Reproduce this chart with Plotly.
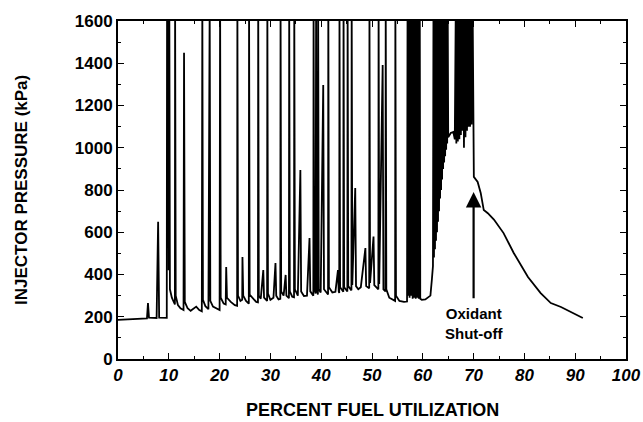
import plotly.graph_objects as go

# Percent fuel utilization (x) and injector pressure in kPa (y).
# Values of 1700 mark spikes that run off the top of the 0-1600 axis.
fuel_util = [
    0, 2, 4, 5.7, 5.9, 6.1, 7.6, 7.9, 8.1, 9.5,
    9.6, 9.66, 9.78, 9.86, 9.98, 10.1, 10.22, 10.6, 11.0, 11.2, 11.24, 11.36, 11.8, 12.3, 12.9,
    13.0, 13.15, 13.7, 14.3, 14.9, 15.4, 16.0, 16.5, 16.6, 16.72, 17.2, 17.8, 18.05, 18.17,
    18.7, 19.4, 20.0, 20.1, 20.22, 20.8, 21.2, 21.3, 21.45, 22.2, 23.0, 23.45, 23.5, 23.62,
    24.1, 24.45, 24.5, 24.65, 25.2, 25.75, 25.8, 25.92, 26.6, 27.2, 27.55, 27.6, 27.72, 28.1,
    28.6, 28.75, 29.35, 29.4, 29.52, 30.0, 30.6, 31.0, 31.15, 31.6, 31.95, 32.0, 32.12, 32.6,
    33.0, 33.15, 33.65, 33.7, 33.82, 34.3, 34.65, 34.7, 34.82, 35.4, 35.9, 36.05, 36.6, 37.2,
    37.7, 37.85, 38.45, 38.5, 38.62, 38.9, 39.0, 39.12, 39.35, 39.4, 39.52, 39.9, 40.4, 40.55,
    41.35, 41.4, 41.52, 42.2, 42.8, 43.3, 43.45, 43.55, 43.6, 43.72, 44.35, 44.4, 44.52, 45.15,
    45.2, 45.32, 45.95, 46.0, 46.12, 46.7, 46.85, 47.3, 47.8, 48.7, 48.85, 49.45, 49.5, 49.62,
    50.3, 50.45, 51.25, 51.3, 51.42, 52.1, 52.25, 52.65, 52.7, 52.82, 53.4, 54.0, 54.55, 54.6,
    54.72, 55.4, 56.3, 56.9, 57.0, 57.1, 57.3, 57.4, 57.6, 57.7, 57.9, 58.0, 58.2, 58.3, 58.5,
    58.6, 58.8, 58.9, 59.1, 59.2, 59.4, 59.5, 59.8, 60.5, 61.0, 61.5, 61.8,
    62.0, 62.1, 62.2, 62.3, 62.4, 62.5, 62.6, 62.7, 62.8, 62.9, 63.0, 63.1, 63.2, 63.3, 63.4,
    63.5, 63.6, 63.7, 63.8, 63.9, 64.0, 64.1, 64.2, 64.3, 64.4, 64.5, 64.6, 64.7, 64.8, 64.9,
    65.0, 65.5, 66.0, 66.3, 66.5, 66.6, 66.8, 66.9, 67.1, 67.2, 67.4, 67.5, 67.7, 67.8, 68.0,
    68.1, 68.3, 68.4, 68.6, 68.7, 68.9, 69.0, 69.2, 69.3, 69.5, 69.6, 69.8, 69.9, 70.0,
    70.05, 70.8, 71.4, 72.0, 72.8, 74.0, 75.9, 77.9, 80.7, 83.2, 85.2, 87.2, 89.7, 91.5,
]
pressure = [
    185, 188, 190, 192, 265, 196, 194, 650, 196, 194,
    195, 1700, 600, 1700, 420, 1700, 330, 290, 265, 258, 1700, 300, 255, 240, 232,
    1450, 270, 240, 228, 238, 248, 232, 226, 1700, 280, 250, 236, 1700, 275,
    248, 240, 232, 1700, 290, 262, 258, 436, 290, 270, 255, 252, 1700, 300,
    275, 280, 483, 300, 275, 262, 1700, 305, 285, 270, 268, 1700, 300, 285,
    421, 290, 275, 1700, 310, 280, 290, 454, 300, 282, 285, 1700, 320, 300,
    398, 300, 288, 1700, 320, 295, 292, 1700, 330, 300, 895, 320, 298, 300,
    573, 320, 300, 1700, 340, 310, 1700, 330, 305, 1700, 330, 315, 1297, 330,
    305, 1700, 340, 315, 318, 421, 320, 312, 1700, 340, 318, 1700, 340, 320,
    1700, 345, 325, 1700, 350, 809, 345, 330, 340, 525, 345, 335, 1700, 360,
    580, 350, 330, 1700, 355, 1392, 330, 320, 1700, 330, 290, 280, 275, 1700,
    300, 275, 270, 272, 1700, 300, 1700, 290, 1700, 300, 1700, 285, 1700, 290, 1700,
    285, 1700, 290, 1700, 285, 1700, 285, 280, 282, 290, 300, 380,
    440, 1700, 480, 1700, 520, 1700, 560, 1700, 600, 1700, 650, 1700, 700, 1700, 760,
    1700, 800, 1700, 850, 1700, 900, 1700, 930, 1700, 960, 1700, 990, 1700, 1020, 1700,
    1050, 1070, 1075, 1040, 1700, 1020, 1700, 1030, 1700, 1040, 1700, 1060, 1700, 1080, 1700,
    1000, 1700, 1050, 1700, 1080, 1700, 1100, 1700, 1100, 1700, 1110, 1700, 1100, 1100,
    862, 838, 786, 705, 690, 660, 596, 502, 388, 312, 265, 246, 218, 194,
]

x_ticks = [0, 10, 20, 30, 40, 50, 60, 70, 80, 90, 100]
y_ticks = [0, 200, 400, 600, 800, 1000, 1200, 1400, 1600]
x_title = "PERCENT FUEL UTILIZATION"
y_title = "INJECTOR PRESSURE (kPa)"

FONT = "Liberation Sans, Arial, sans-serif"

fig = go.Figure()
fig.add_trace(go.Scatter(
    x=fuel_util, y=pressure, mode="lines",
    line=dict(color="black", width=1.8),
    showlegend=False, hoverinfo="skip",
))

axis_common = dict(
    showline=True, linecolor="black", linewidth=2, mirror="ticks",
    ticks="inside", tickcolor="black", ticklen=6, tickwidth=1.2,
    showgrid=False, zeroline=False, automargin=False,
)

fig.update_xaxes(
    range=[0, 100], tickvals=x_ticks, ticktext=[str(v) for v in x_ticks],
    tickfont=dict(family=FONT, size=17, color="black", weight="bold", style="italic"),
    minor=dict(dtick=5, ticks="inside", ticklen=3, tickcolor="black"),
    **axis_common,
)
fig.update_yaxes(
    range=[0, 1600], tickvals=y_ticks, ticktext=[str(v) for v in y_ticks],
    tickfont=dict(family=FONT, size=17, color="black", weight="bold"),
    minor=dict(dtick=100, ticks="inside", ticklen=3, tickcolor="black"),
    **axis_common,
)

# axis titles placed as paper annotations for exact positioning
fig.add_annotation(
    x=0.5, y=-0.151, xref="paper", yref="paper", xanchor="center", yanchor="middle",
    text=x_title, showarrow=False,
    font=dict(family=FONT, size=18, color="black", weight="bold"),
)
fig.add_annotation(
    x=-0.191, y=0.5, xref="paper", yref="paper", xanchor="center", yanchor="middle",
    text=y_title, textangle=-90, showarrow=False,
    font=dict(family=FONT, size=17, color="black", weight="bold"),
)

fig.add_annotation(
    x=70, y=790, ax=70, ay=280, xref="x", yref="y", axref="x", ayref="y",
    text="", showarrow=True, arrowhead=2, arrowsize=1.4, arrowwidth=2.2, arrowcolor="black",
)
fig.add_annotation(
    x=70, y=170, xref="x", yref="y", showarrow=False,
    text="Oxidant<br>Shut-off", align="center",
    font=dict(family=FONT, size=15, color="black", weight="bold"),
)

fig.update_layout(
    width=643, height=422,
    margin=dict(l=118, r=17, t=21, b=63),
    paper_bgcolor="white", plot_bgcolor="white",
)

# remove the browser's default 8px page margin so the figure fills the window
fig.write_html(
    "out.html",
    config={"displayModeBar": False},
    post_script="document.body.style.margin='0px';"
                "document.documentElement.style.overflow='hidden';",
)
